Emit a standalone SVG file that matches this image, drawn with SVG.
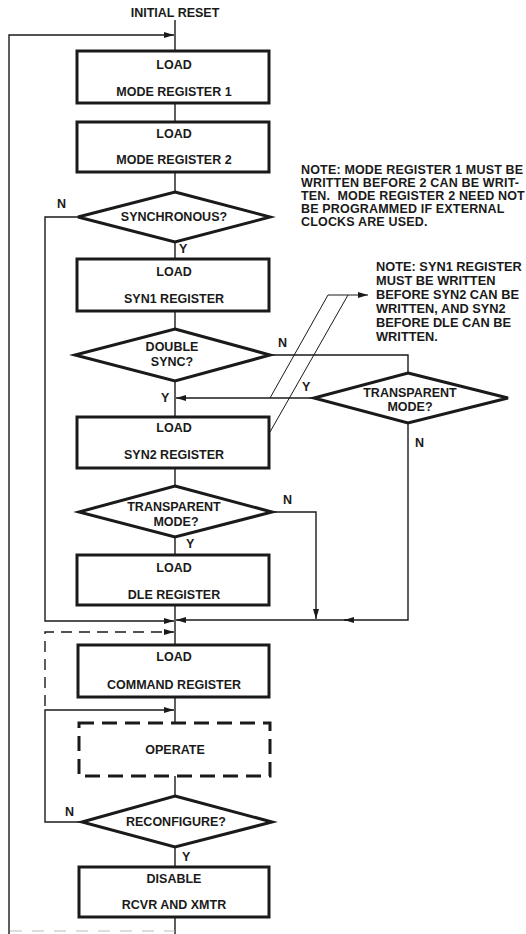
<svg xmlns="http://www.w3.org/2000/svg" width="526" height="934" viewBox="0 0 526 934">
<defs>
<style>
text{font-family:"Liberation Sans",Arial,Helvetica,sans-serif;font-weight:bold;font-size:12.5px;fill:#1a1a1a;dominant-baseline:central}
.c{text-anchor:middle}
.n1{font-size:12.5px;letter-spacing:0.17px}
.nt{font-size:12.8px}
.box{fill:#fff;stroke:#1a1a1a;stroke-width:3}
.dbox{fill:#fff;stroke:#1a1a1a;stroke-width:3;stroke-dasharray:15 8}
.dia{fill:#fff;stroke:#1a1a1a;stroke-width:3;stroke-linejoin:miter}
.ln{fill:none;stroke:#1a1a1a;stroke-width:1.4}
.dl{fill:none;stroke:#1a1a1a;stroke-width:1.4;stroke-dasharray:11 7}
.fn{fill:none;stroke:#1a1a1a;stroke-width:1}
.ah{fill:#1a1a1a}
</style>
<marker id="arr" viewBox="0 0 10 6" refX="10" refY="3" markerWidth="10" markerHeight="6" markerUnits="userSpaceOnUse" orient="auto">
<path d="M0,0 L10,3 L0,6 z" class="ah"/>
</marker>
</defs>
<rect width="526" height="934" fill="#fff"/>

<g id="connectors">
<path class="ln" d="M175,20 V51"/>
<path class="ln" d="M9,934 V35 H174" marker-end="url(#arr)"/>
<path class="ln" d="M175,103 V122"/>
<path class="ln" d="M175,172 V192"/>
<path class="ln" d="M175,242 V259"/>
<path class="ln" d="M175,311 V329"/>
<path class="ln" d="M175,381 V417"/>
<path class="ln" d="M270,355 H408 V373"/>
<path class="ln" d="M314,398 H176" marker-end="url(#arr)"/>
<path class="ln" d="M408,423 V620 H344" marker-end="url(#arr)"/>
<path class="ln" d="M350,620 H176" marker-end="url(#arr)"/>
<path class="ln" d="M175,468 V486"/>
<path class="ln" d="M175,537 V555"/>
<path class="ln" d="M272,512 H316 V619" marker-end="url(#arr)"/>
<path class="ln" d="M175,605 V645"/>
<path class="ln" d="M78,217 H45 V621 H174" marker-end="url(#arr)"/>
<path class="dl" d="M45,706 V632 H168"/>
<path class="ln" d="M166,632 H174" marker-end="url(#arr)"/>
<path class="ln" d="M175,697 V723"/>
<path class="ln" d="M82,822 H45 V710 H174" marker-end="url(#arr)"/>
<path class="ln" d="M175,776 V796"/>
<path class="ln" d="M175,847 V867"/>
<path class="ln" d="M175,917 V934"/>
<path d="M10,931 H175" fill="none" stroke="#bbb" stroke-width="1" stroke-dasharray="12 10"/>
<path class="fn" d="M270,398 L328,295 H368" marker-end="url(#arr)"/>
<path class="fn" d="M270,432 L348,295"/>
</g>

<text id="initial-reset" class="c" x="175" y="13">INITIAL RESET</text>

<g id="load-mode1">
<rect class="box" x="77" y="51" width="192" height="52"/>
<text class="c" x="174" y="65">LOAD</text>
<text class="c" x="174" y="92">MODE REGISTER 1</text>
</g>
<g id="load-mode2">
<rect class="box" x="77" y="122" width="192" height="50"/>
<text class="c" x="174" y="134">LOAD</text>
<text class="c" x="174" y="160">MODE REGISTER 2</text>
</g>
<g id="synchronous">
<polygon class="dia" points="175,192 270,217 175,242 78,217"/>
<text class="c" x="174" y="217">SYNCHRONOUS?</text>
<text x="57" y="204">N</text>
<text x="179" y="249">Y</text>
</g>
<g id="load-syn1">
<rect class="box" x="77" y="259" width="192" height="52"/>
<text class="c" x="174" y="272">LOAD</text>
<text class="c" x="174" y="299">SYN1 REGISTER</text>
</g>
<g id="double-sync">
<polygon class="dia" points="175,329 270,355 175,381 75,355"/>
<text class="c" x="172" y="347">DOUBLE</text>
<text class="c" x="172" y="362">SYNC?</text>
<text x="278" y="343">N</text>
<text x="161" y="398">Y</text>
</g>
<g id="transparent-right">
<polygon class="dia" points="408,373 508,398 408,423 314,398"/>
<text class="c" x="410" y="393">TRANSPARENT</text>
<text class="c" x="410" y="407">MODE?</text>
<text x="302" y="387">Y</text>
<text x="415" y="443">N</text>
</g>
<g id="load-syn2">
<rect class="box" x="77" y="417" width="192" height="51"/>
<text class="c" x="174" y="428">LOAD</text>
<text class="c" x="174" y="455">SYN2 REGISTER</text>
</g>
<g id="transparent-main">
<polygon class="dia" points="175,486 272,512 175,537 79,512"/>
<text class="c" x="174" y="507">TRANSPARENT</text>
<text class="c" x="176" y="522">MODE?</text>
<text x="283" y="500">N</text>
<text x="186" y="544">Y</text>
</g>
<g id="load-dle">
<rect class="box" x="77" y="555" width="192" height="50"/>
<text class="c" x="174" y="568">LOAD</text>
<text class="c" x="174" y="595">DLE REGISTER</text>
</g>
<g id="load-command">
<rect class="box" x="78" y="645" width="191" height="52"/>
<text class="c" x="174" y="657">LOAD</text>
<text class="c" x="174" y="685">COMMAND REGISTER</text>
</g>
<g id="operate">
<rect class="dbox" x="79" y="723" width="191" height="53"/>
<text class="c" x="175" y="750">OPERATE</text>
</g>
<g id="reconfigure">
<polygon class="dia" points="175,796 272,822 175,847 82,822"/>
<text class="c" x="176" y="822">RECONFIGURE?</text>
<text x="65" y="812">N</text>
<text x="182" y="857">Y</text>
</g>
<g id="disable">
<rect class="box" x="79" y="867" width="190" height="50"/>
<text class="c" x="174" y="879">DISABLE</text>
<text class="c" x="174" y="905">RCVR AND XMTR</text>
</g>

<g id="note1">
<text class="n1" x="301" y="170">NOTE: MODE REGISTER 1 MUST BE</text>
<text class="n1" x="301" y="183">WRITTEN BEFORE 2 CAN BE WRIT-</text>
<text class="n1" x="301" y="196" xml:space="preserve">TEN.  MODE REGISTER 2 NEED NOT</text>
<text class="n1" x="301" y="209">BE PROGRAMMED IF EXTERNAL</text>
<text class="n1" x="301" y="222">CLOCKS ARE USED.</text>
</g>
<g id="note2">
<text class="nt" x="376" y="266">NOTE: SYN1 REGISTER</text>
<text class="nt" x="376" y="280">MUST BE WRITTEN</text>
<text class="nt" x="376" y="294">BEFORE SYN2 CAN BE</text>
<text class="nt" x="376" y="308">WRITTEN, AND SYN2</text>
<text class="nt" x="376" y="322">BEFORE DLE CAN BE</text>
<text class="nt" x="376" y="336">WRITTEN.</text>
</g>
</svg>
